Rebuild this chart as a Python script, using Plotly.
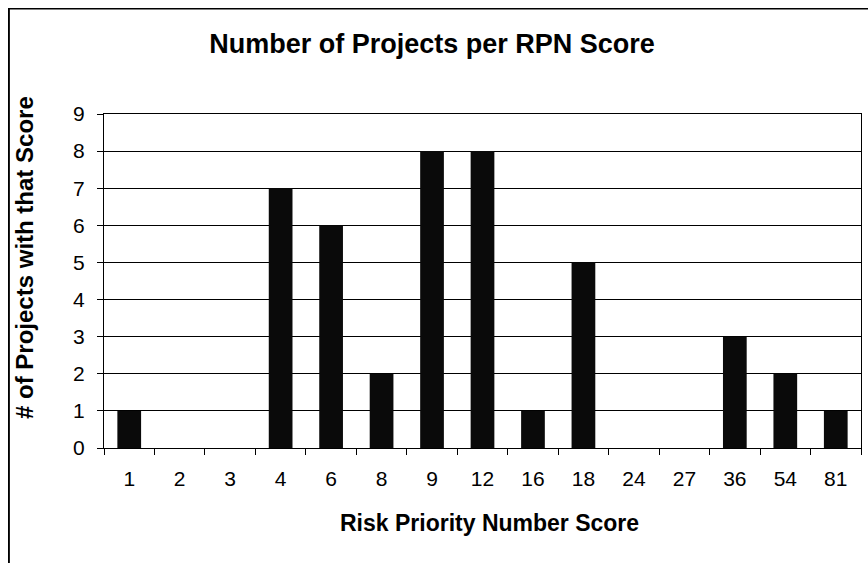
import plotly.graph_objects as go

categories = ["1", "2", "3", "4", "6", "8", "9", "12", "16", "18", "24", "27", "36", "54", "81"]
counts = [1, 0, 0, 7, 6, 2, 8, 8, 1, 5, 0, 0, 3, 2, 1]
y_ticks = list(range(0, 10))

W, H = 868, 563
L, R, T, B = 104, 7, 114, 115
pw, ph = W - L - R, H - T - B

def px_x(px):
    return (px - L) / pw

def px_y(py):
    return (H - B - py) / ph

fig = go.Figure(go.Bar(
    x=categories, y=counts,
    marker=dict(color="#0a0a0a", line=dict(width=0)),
    width=0.47,
))

FONT = "Liberation Sans, Arial, sans-serif"

fig.update_layout(
    width=W, height=H,
    margin=dict(l=L, r=R, t=T, b=B, autoexpand=False),
    paper_bgcolor="white",
    plot_bgcolor="white",
    font=dict(family=FONT, color="black"),
    title=dict(text="<b>Number of Projects per RPN Score</b>", x=432 / W, xref="container",
               xanchor="center", y=1 - 44 / H, yanchor="middle",
               font=dict(size=27, color="black")),
    showlegend=False,
)

fig.update_xaxes(
    type="category",
    automargin=False,
    tickfont=dict(size=21),
    ticks="outside", ticklen=6, tickcolor="black", tickson="boundaries",
    ticklabelstandoff=12,
    showline=True, linecolor="black", linewidth=1, mirror=True,
    showgrid=False,
)
fig.update_yaxes(
    range=[0, 9],
    automargin=False,
    tickvals=y_ticks,
    tickfont=dict(size=21),
    ticks="outside", ticklen=6, tickcolor="black",
    ticklabelstandoff=8,
    showline=True, linecolor="black", linewidth=1, mirror=True,
    showgrid=True, gridcolor="black", gridwidth=1,
    zeroline=False,
)

fig.add_annotation(text="<b>Risk Priority Number Score</b>", xref="paper", yref="paper",
                   x=px_x(489), y=px_y(523), showarrow=False,
                   xanchor="center", yanchor="middle", font=dict(size=23, family=FONT))
fig.add_annotation(text="<b># of Projects with that Score</b>", xref="paper", yref="paper",
                   x=px_x(24), y=px_y(258), showarrow=False, textangle=-90,
                   xanchor="center", yanchor="middle", font=dict(size=24, family=FONT))

# outer chart frame: left edge as a shape
fig.add_shape(type="line", xref="paper", yref="paper",
              x0=px_x(9), x1=px_x(9), y0=px_y(575), y1=px_y(9),
              line=dict(color="black", width=1.5), layer="above")
# outer chart frame: boxed annotation giving the top edge
fig.add_annotation(text=" ", xref="paper", yref="paper",
                   x=px_x(8), y=px_y(8), xanchor="left", yanchor="top",
                   showarrow=False, width=880, height=580,
                   bordercolor="black", borderwidth=1.5, borderpad=0,
                   bgcolor="rgba(0,0,0,0)")

fig.write_html("out.html", config={"displayModeBar": False},
               post_script="document.body.style.margin='0';document.body.style.overflow='hidden';")
